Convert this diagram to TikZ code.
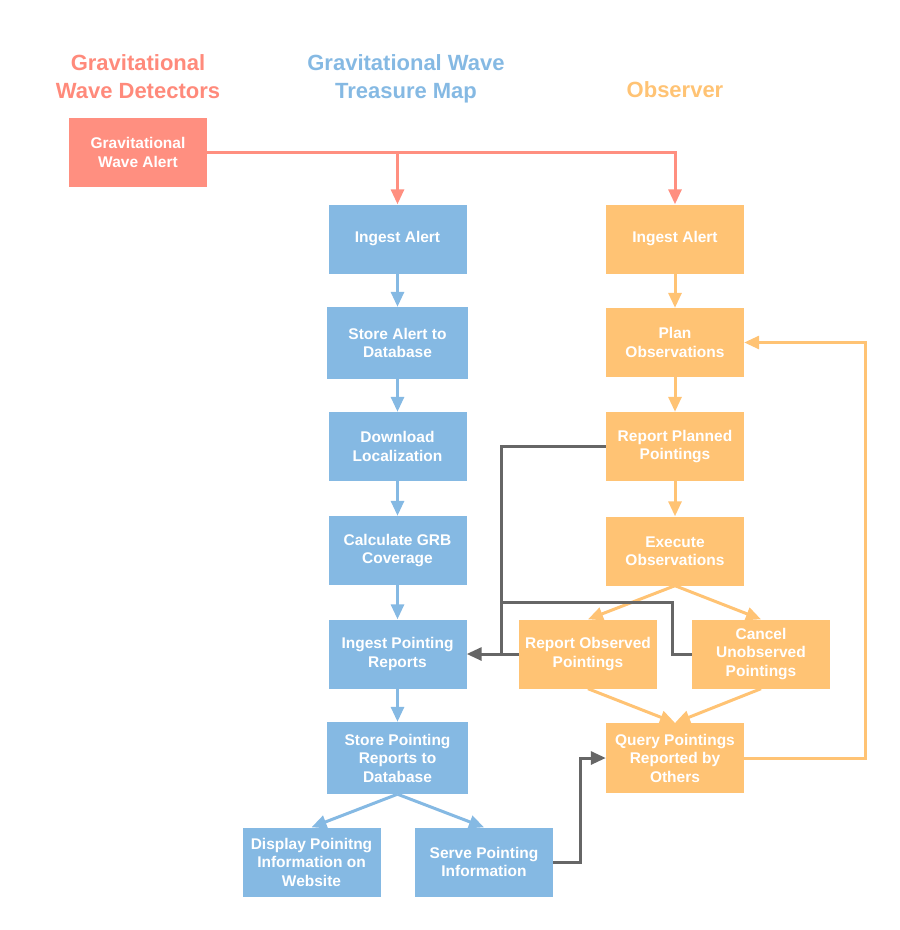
\documentclass[tikz,border=0pt]{standalone}
\usepackage{fontspec}
\setmainfont{Liberation Sans}
\usetikzlibrary{arrows.meta}
\definecolor{gwred}{HTML}{FF8F80}
\definecolor{gwredt}{HTML}{FF8A7B}
\definecolor{gwblue}{HTML}{85B9E3}
\definecolor{gworange}{HTML}{FFC374}
\definecolor{gwgray}{HTML}{666666}
\begin{document}
\begin{tikzpicture}[x=1pt,y=-1pt,
  box/.style={rectangle, minimum width=138pt, minimum height=69pt, inner sep=2pt,
    text=white, font=\bfseries\fontsize{15.5}{18.5}\selectfont, align=center},
  redbox/.style={box, fill=gwred},
  bluebox/.style={box, fill=gwblue},
  orangebox/.style={box, fill=gworange},
  title/.style={font=\bfseries\fontsize{22}{28}\selectfont, align=center},
  conn/.style={line width=3pt, -{Triangle[length=15pt,width=13pt]}},
  plainconn/.style={line width=3pt},
  redline/.style={conn, draw=gwred},
  blueline/.style={conn, draw=gwblue},
  orangeline/.style={conn, draw=gworange},
  grayline/.style={conn, draw=gwgray},
  grayplain/.style={plainconn, draw=gwgray}
]
\useasboundingbox (0,0) rectangle (900,930);

% titles
\node[title, text=gwredt] (t1) at (138,77) {Gravitational\\Wave Detectors};
\node[title, text=gwblue] (t2) at (406,79) {Gravitational Wave\\Treasure Map};
\node[title, text=gworange] (t3) at (675,90) {Observer};

% red
\node[redbox] (alert) at (138,152.5) {Gravitational\\Wave Alert};

% blue column
\node[bluebox] (bingest) at (397.5,239) {Ingest Alert};
\node[bluebox, minimum width=141pt, minimum height=72pt] (bstore) at (397.5,343) {Store Alert to\\Database};
\node[bluebox] (bdown) at (397.5,446.5) {Download\\Localization};
\node[bluebox] (bcalc) at (397.5,550.5) {Calculate GRB\\Coverage};
\node[bluebox] (bpoint) at (397.5,654) {Ingest Pointing\\Reports};
\node[bluebox, minimum width=141pt, minimum height=72pt] (bspr) at (397.5,758) {Store Pointing\\Reports to\\Database};
\node[bluebox] (display) at (311.5,862) {Display Poinitng\\Information on\\Website};
\node[bluebox] (serve) at (484,862) {Serve Pointing\\Information};

% orange column
\node[orangebox] (oingest) at (675,239) {Ingest Alert};
\node[orangebox] (plan) at (675,342.5) {Plan\\Observations};
\node[orangebox] (rplan) at (675,446.5) {Report Planned\\Pointings};
\node[orangebox] (exec) at (675,551) {Execute\\Observations};
\node[orangebox] (robs) at (588,654) {Report Observed\\Pointings};
\node[orangebox] (cancel) at (761,654) {Cancel\\Unobserved\\Pointings};
\node[orangebox, minimum height=70pt] (query) at (675,758) {Query Pointings\\Reported by\\Others};

% red connectors
\draw[redline] (alert.east) -| (oingest.north);
\draw[redline] (bingest.north |- alert.east) -- (bingest.north);

% blue connectors
\draw[blueline] (bingest) -- (bstore);
\draw[blueline] (bstore) -- (bdown);
\draw[blueline] (bdown) -- (bcalc);
\draw[blueline] (bcalc) -- (bpoint);
\draw[blueline] (bpoint) -- (bspr);
\draw[blueline] (bspr.south) -- (display.north);
\draw[blueline] (bspr.south) -- (serve.north);

% orange connectors
\draw[orangeline] (oingest) -- (plan);
\draw[orangeline] (plan) -- (rplan);
\draw[orangeline] (rplan) -- (exec);
\draw[orangeline] (exec.south) -- (robs.north);
\draw[orangeline] (exec.south) -- (cancel.north);
\draw[orangeline] (robs.south) -- (query.north);
\draw[orangeline] (cancel.south) -- (query.north);
\draw[orangeline] (query.east) -- ++(121,0) |- (plan.east);

% gray connectors
\coordinate (gj) at (501,654);
\coordinate (gk) at (672,602);
\draw[grayplain] (rplan.west) -| (gj);
\draw[grayplain] (cancel.west) -| (gk) -- (gk -| gj);
\draw[grayline] (robs.west) -- (bpoint.east);
\draw[grayline] (serve.east) -- ++(27,0) |- (query.west);
\end{tikzpicture}
\end{document}
